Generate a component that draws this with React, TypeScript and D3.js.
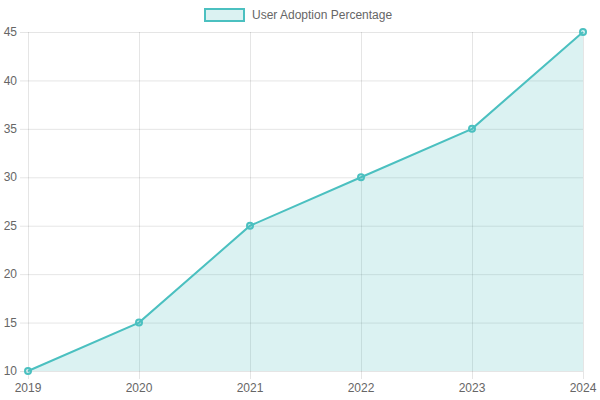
import React, { useEffect, useRef } from "react";
import * as d3 from "d3";

const years = ["2019", "2020", "2021", "2022", "2023", "2024"];
const adoption = [10, 15, 25, 30, 35, 45];
const yTicks = [10, 15, 20, 25, 30, 35, 40, 45];
const seriesLabel = "User Adoption Percentage";

const W = 600;
const H = 400;
const margin = { left: 28, right: 17, top: 32, bottom: 29 };
const stroke = "rgb(75,192,192)";
const fill = "rgba(75,192,192,0.2)";
const gridColor = "rgba(0,0,0,0.1)";
const textColor = "#666";
const font = "'Liberation Sans', Arial, Helvetica, sans-serif";

export default function App() {
  const ref = useRef<SVGSVGElement>(null);

  useEffect(() => {
    const svg = d3.select(ref.current);
    svg.selectAll("*").remove();

    const x = d3
      .scalePoint<string>()
      .domain(years)
      .range([margin.left, W - margin.right]);
    const y = d3
      .scaleLinear()
      .domain([10, 45])
      .range([H - margin.bottom, margin.top]);

    const g = svg.append("g");

    // horizontal grid lines with short ticks left of the axis
    g.selectAll("line.hgrid")
      .data(yTicks)
      .join("line")
      .attr("x1", margin.left - 8)
      .attr("x2", W - margin.right)
      .attr("y1", (d) => y(d) + 0.5)
      .attr("y2", (d) => y(d) + 0.5)
      .attr("stroke", gridColor)
      .attr("stroke-width", 1);

    // vertical grid lines with ticks below the axis
    g.selectAll("line.vgrid")
      .data(years)
      .join("line")
      .attr("x1", (d) => x(d)! + 0.5)
      .attr("x2", (d) => x(d)! + 0.5)
      .attr("y1", margin.top)
      .attr("y2", H - margin.bottom + 8)
      .attr("stroke", gridColor)
      .attr("stroke-width", 1);

    // y tick labels
    g.selectAll("text.ylab")
      .data(yTicks)
      .join("text")
      .attr("x", margin.left - 11)
      .attr("y", (d) => y(d))
      .attr("dy", "0.35em")
      .attr("text-anchor", "end")
      .attr("fill", textColor)
      .style("font", `12px ${font}`)
      .text((d) => d);

    // x tick labels
    g.selectAll("text.xlab")
      .data(years)
      .join("text")
      .attr("x", (d) => x(d)!)
      .attr("y", H - margin.bottom + 17)
      .attr("dy", "0.35em")
      .attr("text-anchor", "middle")
      .attr("fill", textColor)
      .style("font", `12px ${font}`)
      .text((d) => d);

    const pts = years.map((yr, i) => [x(yr)!, y(adoption[i])] as [number, number]);

    const area = d3
      .area<[number, number]>()
      .x((d) => d[0])
      .y0(y(10))
      .y1((d) => d[1]);
    g.append("path").attr("d", area(pts)!).attr("fill", fill);

    const line = d3.line<[number, number]>().x((d) => d[0]).y((d) => d[1]);
    g.append("path")
      .attr("d", line(pts)!)
      .attr("fill", "none")
      .attr("stroke", stroke)
      .attr("stroke-width", 2);

    g.selectAll("circle.pt")
      .data(pts)
      .join("circle")
      .attr("cx", (d) => d[0])
      .attr("cy", (d) => d[1])
      .attr("r", 3)
      .attr("fill", fill)
      .attr("stroke", stroke)
      .attr("stroke-width", 2);

    // legend
    const legend = svg.append("g");
    legend
      .append("rect")
      .attr("x", 205)
      .attr("y", 9)
      .attr("width", 39)
      .attr("height", 12)
      .attr("fill", fill)
      .attr("stroke", stroke)
      .attr("stroke-width", 2);
    legend
      .append("text")
      .attr("x", 252)
      .attr("y", 15)
      .attr("dy", "0.35em")
      .attr("fill", textColor)
      .style("font", `12px ${font}`)
      .text(seriesLabel);
  }, []);

  return (
    <svg
      ref={ref}
      width={W}
      height={H}
      style={{ position: "absolute", left: 0, top: 0, background: "#fff" }}
    />
  );
}
